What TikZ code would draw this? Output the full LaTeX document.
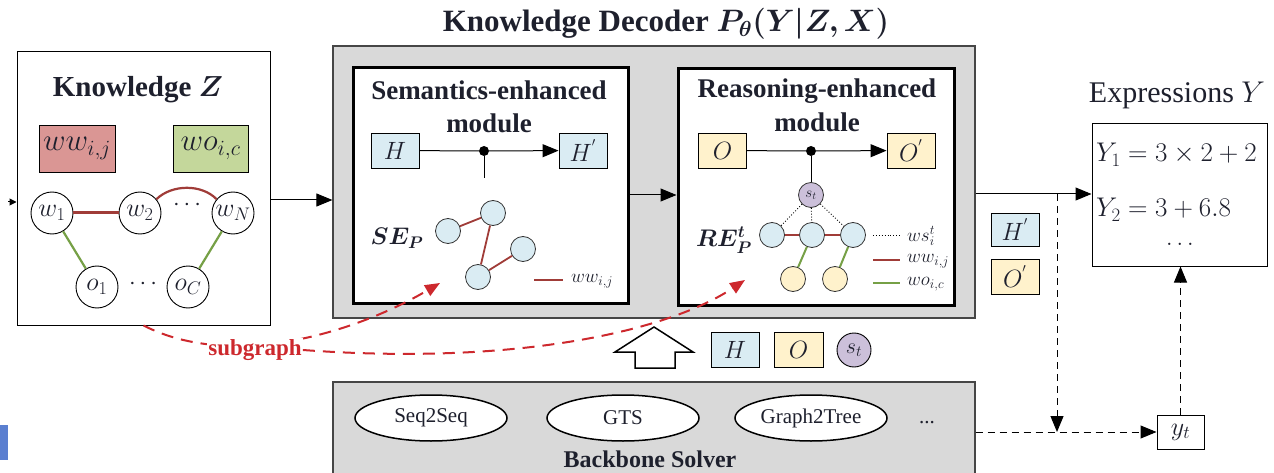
\RequirePackage{fix-cm}
\documentclass[tikz,border=0pt]{standalone}
\usepackage{fontspec}
\setmainfont{Liberation Serif}
\usepackage{amsmath,bm}
\usetikzlibrary{arrows.meta,shapes.geometric}

\definecolor{boxgray}{RGB}{217,217,217}
\definecolor{edgegray}{RGB}{70,70,70}
\definecolor{hblue}{RGB}{218,236,243}
\definecolor{oyellow}{RGB}{255,242,204}
\definecolor{spurple}{RGB}{204,192,218}
\definecolor{wwred}{RGB}{160,60,56}
\definecolor{wogreen}{RGB}{118,160,70}
\definecolor{wwfill}{RGB}{218,150,148}
\definecolor{wofill}{RGB}{196,215,155}
\definecolor{subred}{RGB}{205,40,45}
\definecolor{ink}{RGB}{30,32,45}
\definecolor{tabblue}{RGB}{91,127,208}

\tikzset{
  vbox/.style={draw=black, line width=0.9pt, minimum width=48pt, minimum height=35pt,
    inner sep=0pt, text=ink, font=\fontsize{25}{28}\selectfont},
  hbox/.style={vbox, fill=hblue},
  obox/.style={vbox, fill=oyellow},
  kcirc/.style={circle, draw, line width=0.9pt, minimum size=42pt, inner sep=0pt,
    fill=white, text=ink, font=\fontsize{26}{28}\selectfont},
  gcirc/.style={circle, draw=black!80, line width=0.8pt, minimum size=25pt, inner sep=0pt, fill=hblue},
  ycirc/.style={gcirc, fill=oyellow},
  wwedge/.style={draw=wwred, line width=2.2pt},
  woedge/.style={draw=wogreen, line width=2.2pt},
  wsedge/.style={draw, dotted, line width=0.9pt},
  flow/.style={-{Triangle[length=16pt,width=13pt]}, line width=1pt},
  dflow/.style={flow, dash pattern=on 7pt off 5pt},
  subline/.style={draw=subred, line width=2pt, dash pattern=on 12pt off 8pt,
    -{Triangle[length=15pt,width=12pt]}},
  solver/.style={ellipse, draw, line width=1.5pt, fill=white, minimum width=152pt,
    minimum height=46pt, inner sep=0pt, text=ink, font=\fontsize{21}{24}\selectfont},
  module/.style={draw=black, line width=3pt, fill=white, inner sep=0pt},
  modtitle/.style={anchor=base, text=ink, font=\fontsize{27}{30}\selectfont\bfseries},
  legend/.style={anchor=west, inner sep=0pt, text=ink, font=\fontsize{19}{22}\selectfont},
}

\begin{document}
\begin{tikzpicture}[x=1pt,y=-1pt]
\useasboundingbox (0,0) rectangle (1274,473);

% ---------- knowledge graph ----------
\node[draw, line width=1pt, fill=white, minimum width=253pt, minimum height=273pt, inner sep=0pt]
  (kbox) at (143.5,188.5) {};
\node[text=ink, font=\fontsize{29}{32}\selectfont\bfseries] (ktitle) at (138,90) {Knowledge \(\bm{Z}\)};
\node[draw, line width=0.9pt, fill=wwfill, minimum width=76pt, minimum height=47pt, inner sep=0pt,
  text=ink, font=\fontsize{31}{34}\selectfont] (wwkey) at (77,148.5) {\(ww_{i,j}\)};
\node[draw, line width=0.9pt, fill=wofill, minimum width=75pt, minimum height=47pt, inner sep=0pt,
  text=ink, font=\fontsize{31}{34}\selectfont] (wokey) at (210.5,148.5) {\(wo_{i,c}\)};

\node[kcirc] (w1) at (52,213) {\(w_1\)};
\node[kcirc] (w2) at (140,213) {\(w_2\)};
\node[kcirc] (wN) at (233,213) {\(w_N\)};
\node[kcirc] (o1) at (97,287) {\(o_1\)};
\node[kcirc] (oC) at (188,287) {\(o_C\)};
\node[text=ink, font=\fontsize{24}{26}\selectfont] (wdots) at (187,205) {\(\cdots\)};
\node[text=ink, font=\fontsize{24}{26}\selectfont] (odots) at (143,284) {\(\cdots\)};

\draw[wwedge, line width=3pt] (w1) -- (w2);
\draw[wwedge] (w2.40) .. controls (172,184) and (202,184) .. (wN.140);
\draw[woedge] (w1) -- (o1);
\draw[woedge] (wN) -- (oC);

\coordinate (kin) at (8,202);
\draw[-{Triangle[length=7pt,width=7pt]}, line width=1pt] (kin) -- (kbox.west |- kin);

% ---------- knowledge decoder ----------
\node[draw=edgegray, line width=1.2pt, fill=boxgray, minimum width=642pt, minimum height=272pt, inner sep=0pt]
  (dec) at (654,182) {};
\node[text=ink, font=\fontsize{31}{36}\selectfont\bfseries] (dtitle) at (666,24)
  {Knowledge Decoder \(\bm{P_\theta(Y|Z,X)}\)};

\coordinate (row) at (0,200);
\draw[flow] (kbox.east |- row) -- (dec.west |- row);

% semantics-enhanced module
\node[module, minimum width=275pt, minimum height=235pt] (semmod) at (490.5,185.5) {};
\node[modtitle] (semt1) at (489,100) {Semantics-enhanced};
\node[modtitle] (semt2) at (489,133) {module};
\node[hbox] (sH) at (395,150.5) {\(H\)};
\node[hbox] (sH2) at (583,150.5) {\(H^{'}\)};
\node[circle, fill=black, inner sep=0pt, minimum size=10pt] (sdot) at (484,151) {};
\coordinate (sstem) at (484,178);
\draw[line width=1pt] (sH) -- (sdot);
\draw[flow] (sdot) -- (sH2);
\draw[line width=1pt] (sdot) -- (sstem);

\node[text=ink, font=\fontsize{24}{28}\selectfont] (sep) at (397,238) {\(\bm{SE_P}\)};
\node[gcirc] (g1) at (448,231) {};
\node[gcirc] (g2) at (493,213) {};
\node[gcirc] (g3) at (523,249) {};
\node[gcirc] (g4) at (478,277) {};
\draw[wwedge, line width=1.8pt] (g1) -- (g2);
\draw[wwedge, line width=1.8pt] (g2) -- (g4);
\draw[wwedge, line width=1.8pt] (g4) -- (g3);
\coordinate (sl1) at (534,280);
\coordinate (sl2) at (563,280);
\draw[wwedge] (sl1) -- (sl2);
\node[legend] (slab) at (571,281) {\(ww_{i,j}\)};

% reasoning-enhanced module
\node[module, minimum width=276pt, minimum height=236pt] (remod) at (816,187) {};
\node[modtitle] (ret1) at (817,98) {Reasoning-enhanced};
\node[modtitle] (ret2) at (817,132) {module};
\node[obox] (rO) at (722.5,150.5) {\(O\)};
\node[obox] (rO2) at (911,150.5) {\(O^{'}\)};
\node[circle, fill=black, inner sep=0pt, minimum size=10pt] (rdot) at (811,151) {};
\node[gcirc, fill=spurple, text=ink, font=\fontsize{15}{16}\selectfont] (st) at (811,195) {\(s_t\)};
\draw[line width=1pt] (rO) -- (rdot);
\draw[flow] (rdot) -- (rO2);
\draw[line width=1pt] (rdot) -- (st);

\node[text=ink, font=\fontsize{24}{28}\selectfont] (rep) at (724,240) {\(\bm{RE_P^t}\)};
\node[gcirc] (r1) at (772,235) {};
\node[gcirc] (r2) at (812,235) {};
\node[gcirc] (r3) at (853,235) {};
\node[ycirc] (y1) at (793,279) {};
\node[ycirc] (y2) at (835,279) {};
\draw[wsedge] (st) -- (r1);
\draw[wsedge] (st) -- (r2);
\draw[wsedge] (st) -- (r3);
\draw[wwedge, line width=2pt] (r1) -- (r2);
\draw[wwedge, line width=2pt] (r2) -- (r3);
\draw[woedge, line width=2pt] (r2) -- (y1);
\draw[woedge, line width=2pt] (r3) -- (y2);

\coordinate (rl1) at (873,235);
\coordinate (rl2) at (900,235);
\coordinate (rl3) at (873,260);
\coordinate (rl4) at (900,260);
\coordinate (rl5) at (873,283);
\coordinate (rl6) at (900,283);
\draw[wsedge] (rl1) -- (rl2);
\draw[wwedge] (rl3) -- (rl4);
\draw[woedge] (rl5) -- (rl6);
\node[legend] (rlab1) at (907,236) {\(ws_i^t\)};
\node[legend] (rlab2) at (907,261) {\(ww_{i,j}\)};
\node[legend] (rlab3) at (907,284) {\(wo_{i,c}\)};

\coordinate (mrow) at (0,195);
\draw[flow] (semmod.east |- mrow) -- (remod.west |- mrow);

% ---------- expressions ----------
\node[draw, line width=1pt, fill=white, minimum width=175pt, minimum height=142pt, inner sep=0pt]
  (expr) at (1179.5,195) {};
\node[anchor=base, text=ink, font=\fontsize{30}{34}\selectfont] (etitle) at (1177,103) {Expressions \(Y\)};
\node[anchor=base west, inner sep=0pt, text=ink, font=\fontsize{27}{30}\selectfont] (ey1) at (1096,162)
  {\(Y_1 = 3\times 2+2\)};
\node[anchor=base west, inner sep=0pt, text=ink, font=\fontsize{27}{30}\selectfont] (ey2) at (1096,217)
  {\(Y_2 = 3+6.8\)};
\node[anchor=base, text=ink, font=\fontsize{24}{26}\selectfont] (edots) at (1180,245) {\(\ldots\)};

\coordinate (orow) at (0,194);
\draw[flow] (dec.east |- orow) -- (expr.west |- orow);

\node[hbox, minimum height=33pt] (oH) at (1015,229.5) {\(H^{'}\)};
\node[obox] (oO) at (1015,276.5) {\(O^{'}\)};

% ---------- backbone solver ----------
\node[draw=edgegray, line width=1.2pt, fill=boxgray, minimum width=642pt, minimum height=100pt, inner sep=0pt]
  (bb) at (654,432) {};
\node[solver] (seq) at (431,418) {Seq2Seq};
\node[solver] (gts) at (623,418) {GTS};
\node[solver] (g2t) at (811,418) {Graph2Tree};
\node[anchor=base, text=ink, font=\fontsize{21}{24}\selectfont] (bdots) at (927,423) {...};
\node[anchor=base, text=ink, font=\fontsize{24}{28}\selectfont\bfseries] (btitle) at (650,467) {Backbone Solver};

% decoder input: block arrow and the fed states
\draw[line width=1.5pt, fill=white]
  (654,327) -- (693,352) -- (675,352) -- (675,368) -- (635,368) -- (635,352) -- (615,352) -- cycle;
\node[hbox] (inH) at (735,349.5) {\(H\)};
\node[obox, minimum width=49pt] (inO) at (798.5,349.5) {\(O\)};
\node[circle, draw, line width=0.9pt, fill=spurple, minimum size=34pt, inner sep=0pt,
  text=ink, font=\fontsize{22}{24}\selectfont] (inS) at (854,350) {\(s_t\)};

% ---------- step output y_t ----------
\node[draw, line width=1pt, fill=white, minimum width=47pt, minimum height=34pt, inner sep=0pt,
  text=ink, font=\fontsize{26}{28}\selectfont] (yt) at (1180.5,432) {\(y_t\)};
\coordinate (split) at (1057,194);
\coordinate (join) at (1057,432);
\draw[dflow] (split) -- (join);
\draw[dflow] (bb.east |- join) -- (yt.west);
\draw[dflow] (yt.north) -- (expr.south -| yt.north);

% ---------- subgraph links ----------
\coordinate (seTip) at (440,283);
\coordinate (reTip) at (745,280);
\draw[subline] (kbox.south) .. controls (235,372) and (360,330) .. (seTip);
\node[fill=white, inner sep=1pt, text=subred, font=\fontsize{23}{26}\selectfont\bfseries] (sub) at (255,350) {subgraph};
\draw[subline] (sub.east) .. controls (520,366) and (670,330) .. (reTip);

% edge tab
\fill[tabblue] (0,425) rectangle (8,460);
\end{tikzpicture}
\end{document}
